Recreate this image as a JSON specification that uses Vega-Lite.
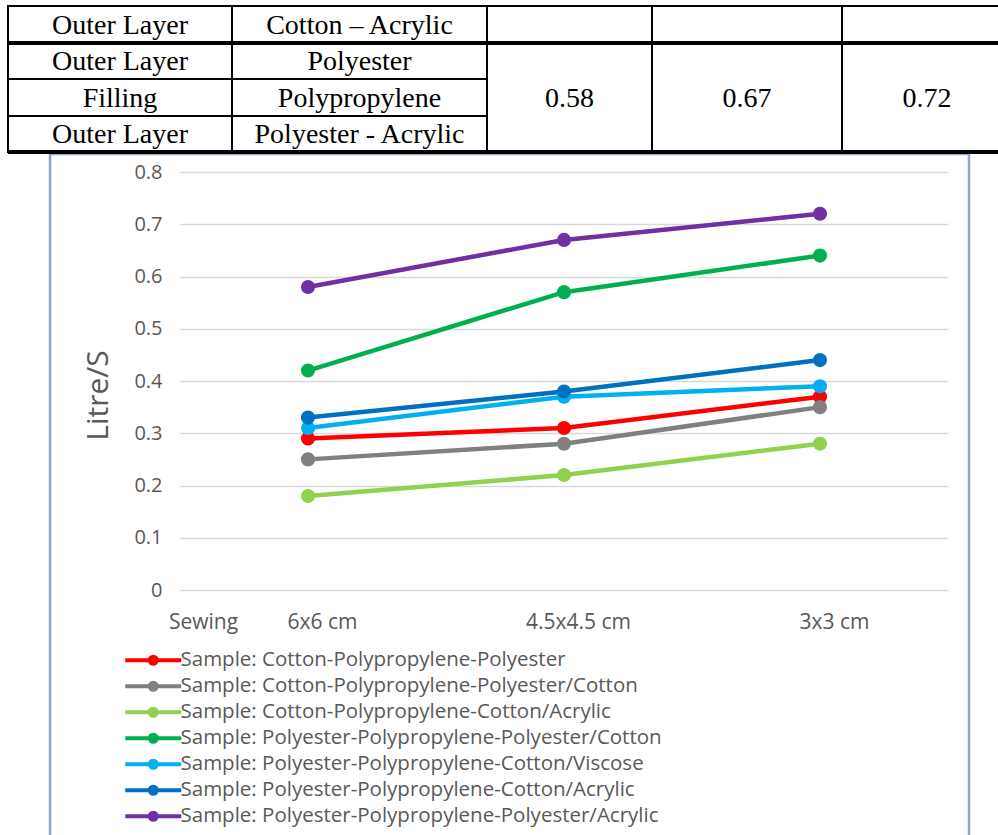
{
  "$schema": "https://vega.github.io/schema/vega-lite/v6.json",
  "autosize": {"type": "none"},
  "width": 768,
  "height": 418,
  "padding": {"left": 180, "top": 172, "right": 50, "bottom": 245},
  "background": "white",
  "config": {"view": {"stroke": null}, "font": "Open Sans"},
  "datasets": {
    "cells": [
      {"r0": 0, "r1": 1, "c0": 0, "c1": 1, "rc": 0.5, "cc": 0.5, "label": "Outer Layer"},
      {"r0": 0, "r1": 1, "c0": 1, "c1": 2, "rc": 0.5, "cc": 1.5, "label": "Cotton – Acrylic"},
      {"r0": 0, "r1": 1, "c0": 2, "c1": 3, "rc": 0.5, "cc": 2.5, "label": ""},
      {"r0": 0, "r1": 1, "c0": 3, "c1": 4, "rc": 0.5, "cc": 3.5, "label": ""},
      {"r0": 0, "r1": 1, "c0": 4, "c1": 5, "rc": 0.5, "cc": 4.5, "label": ""},
      {"r0": 1, "r1": 2, "c0": 0, "c1": 1, "rc": 1.5, "cc": 0.5, "label": "Outer Layer"},
      {"r0": 1, "r1": 2, "c0": 1, "c1": 2, "rc": 1.5, "cc": 1.5, "label": "Polyester"},
      {"r0": 2, "r1": 3, "c0": 0, "c1": 1, "rc": 2.5, "cc": 0.5, "label": "Filling"},
      {"r0": 2, "r1": 3, "c0": 1, "c1": 2, "rc": 2.5, "cc": 1.5, "label": "Polypropylene"},
      {"r0": 3, "r1": 4, "c0": 0, "c1": 1, "rc": 3.5, "cc": 0.5, "label": "Outer Layer"},
      {"r0": 3, "r1": 4, "c0": 1, "c1": 2, "rc": 3.5, "cc": 1.5, "label": "Polyester - Acrylic"},
      {"r0": 1, "r1": 4, "c0": 2, "c1": 3, "rc": 2.5, "cc": 2.5, "label": "0.58"},
      {"r0": 1, "r1": 4, "c0": 3, "c1": 4, "rc": 2.5, "cc": 3.5, "label": "0.67"},
      {"r0": 1, "r1": 4, "c0": 4, "c1": 5, "rc": 2.5, "cc": 4.5, "label": "0.72"}
    ],
    "thick": [{"r": 1}, {"r": 4}],
    "series": [
      {"sample": "Sample: Cotton-Polypropylene-Polyester", "size": "6x6 cm", "v": 0.29},
      {"sample": "Sample: Cotton-Polypropylene-Polyester", "size": "4.5x4.5 cm", "v": 0.31},
      {"sample": "Sample: Cotton-Polypropylene-Polyester", "size": "3x3 cm", "v": 0.37},
      {"sample": "Sample: Cotton-Polypropylene-Polyester/Cotton", "size": "6x6 cm", "v": 0.25},
      {"sample": "Sample: Cotton-Polypropylene-Polyester/Cotton", "size": "4.5x4.5 cm", "v": 0.28},
      {"sample": "Sample: Cotton-Polypropylene-Polyester/Cotton", "size": "3x3 cm", "v": 0.35},
      {"sample": "Sample: Cotton-Polypropylene-Cotton/Acrylic", "size": "6x6 cm", "v": 0.18},
      {"sample": "Sample: Cotton-Polypropylene-Cotton/Acrylic", "size": "4.5x4.5 cm", "v": 0.22},
      {"sample": "Sample: Cotton-Polypropylene-Cotton/Acrylic", "size": "3x3 cm", "v": 0.28},
      {"sample": "Sample: Polyester-Polypropylene-Polyester/Cotton", "size": "6x6 cm", "v": 0.42},
      {"sample": "Sample: Polyester-Polypropylene-Polyester/Cotton", "size": "4.5x4.5 cm", "v": 0.57},
      {"sample": "Sample: Polyester-Polypropylene-Polyester/Cotton", "size": "3x3 cm", "v": 0.64},
      {"sample": "Sample: Polyester-Polypropylene-Cotton/Viscose", "size": "6x6 cm", "v": 0.31},
      {"sample": "Sample: Polyester-Polypropylene-Cotton/Viscose", "size": "4.5x4.5 cm", "v": 0.37},
      {"sample": "Sample: Polyester-Polypropylene-Cotton/Viscose", "size": "3x3 cm", "v": 0.39},
      {"sample": "Sample: Polyester-Polypropylene-Cotton/Acrylic", "size": "6x6 cm", "v": 0.33},
      {"sample": "Sample: Polyester-Polypropylene-Cotton/Acrylic", "size": "4.5x4.5 cm", "v": 0.38},
      {"sample": "Sample: Polyester-Polypropylene-Cotton/Acrylic", "size": "3x3 cm", "v": 0.44},
      {"sample": "Sample: Polyester-Polypropylene-Polyester/Acrylic", "size": "6x6 cm", "v": 0.58},
      {"sample": "Sample: Polyester-Polypropylene-Polyester/Acrylic", "size": "4.5x4.5 cm", "v": 0.67},
      {"sample": "Sample: Polyester-Polypropylene-Polyester/Acrylic", "size": "3x3 cm", "v": 0.72}
    ]
  },
  "layer": [
    {
      "data": {"values": [{"box": "chart area"}]},
      "mark": {"type": "rect", "fill": "transparent", "stroke": "#8FA4C6", "strokeWidth": 2.5},
      "encoding": {
        "x": {"datum": 0, "type": "quantitative", "scale": {"domain": [0, 1], "range": [-130, 789], "nice": false, "zero": false}, "axis": null},
        "x2": {"datum": 1},
        "y": {"datum": 0, "type": "quantitative", "scale": {"domain": [0, 1], "range": [-18, 680], "nice": false, "zero": false}, "axis": null},
        "y2": {"datum": 1}
      }
    },
    {
      "layer": [
        {
          "data": {"name": "cells"},
          "mark": {"type": "rect", "fill": "white", "stroke": "black", "strokeWidth": 2},
          "encoding": {
            "x": {"field": "c0", "type": "quantitative", "scale": {"domain": [0, 1, 2, 3, 4, 5], "range": [-172, 52, 307, 472, 662, 832], "nice": false, "zero": false}, "axis": null},
            "x2": {"field": "c1"},
            "y": {"field": "r0", "type": "quantitative", "scale": {"domain": [0, 1, 2, 3, 4], "range": [-166, -129, -93, -56, -20], "nice": false, "zero": false}, "axis": null},
            "y2": {"field": "r1"}
          }
        },
        {
          "data": {"name": "thick"},
          "mark": {"type": "rule", "stroke": "black", "strokeWidth": 4},
          "encoding": {
            "x": {"datum": 0, "type": "quantitative", "scale": {"domain": [0, 1, 2, 3, 4, 5], "range": [-172, 52, 307, 472, 662, 832], "nice": false, "zero": false}, "axis": null},
            "x2": {"datum": 5},
            "y": {"field": "r", "type": "quantitative", "scale": {"domain": [0, 1, 2, 3, 4], "range": [-166, -129, -93, -56, -20], "nice": false, "zero": false}, "axis": null}
          }
        },
        {
          "data": {"name": "cells"},
          "mark": {"type": "text", "font": "Liberation Serif", "fontSize": 28, "color": "black", "align": "center", "baseline": "middle", "dy": 1},
          "encoding": {
            "x": {"field": "cc", "type": "quantitative", "scale": {"domain": [0, 1, 2, 3, 4, 5], "range": [-172, 52, 307, 472, 662, 832], "nice": false, "zero": false}, "axis": null},
            "y": {"field": "rc", "type": "quantitative", "scale": {"domain": [0, 1, 2, 3, 4], "range": [-166, -129, -93, -56, -20], "nice": false, "zero": false}, "axis": null},
            "text": {"field": "label"}
          }
        }
      ]
    },
    {
      "data": {"name": "series"},
      "encoding": {
        "x": {
          "field": "size", "type": "nominal", "sort": null,
          "scale": {"type": "point", "domain": ["6x6 cm", "4.5x4.5 cm", "3x3 cm"], "padding": 0.5},
          "axis": {
            "title": "Sewing", "labelAngle": 0, "labelFontSize": 21, "labelColor": "#595959",
            "labelPadding": 21, "labelOffset": 14, "labelBaseline": "top", "ticks": false, "domain": false, "grid": false,
            "titleX": 23, "titleY": 21, "titleAlign": "center", "titleBaseline": "top",
            "titleFontSize": 21, "titleFontWeight": "normal", "titleColor": "#595959"
          }
        },
        "y": {
          "field": "v", "type": "quantitative",
          "scale": {"domain": [0, 0.8], "nice": false, "zero": true},
          "axis": {
            "title": "Litre/S", "values": [0, 0.1, 0.2, 0.3, 0.4, 0.5, 0.6, 0.7, 0.8], "format": "~g",
            "grid": true, "gridColor": "#D9D9D9", "gridWidth": 1.3, "domain": false, "ticks": false,
            "labelPadding": 18, "labelFontSize": 20, "labelColor": "#595959",
            "titleFontSize": 30, "titleFontWeight": "normal", "titleColor": "#595959",
            "titleX": -82, "titleY": 223, "titleAngle": -90, "titleAlign": "center", "titleBaseline": "middle"
          }
        },
        "color": {
          "field": "sample", "type": "nominal",
          "scale": {
            "domain": [
              "Sample: Cotton-Polypropylene-Polyester",
              "Sample: Cotton-Polypropylene-Polyester/Cotton",
              "Sample: Cotton-Polypropylene-Cotton/Acrylic",
              "Sample: Polyester-Polypropylene-Polyester/Cotton",
              "Sample: Polyester-Polypropylene-Cotton/Viscose",
              "Sample: Polyester-Polypropylene-Cotton/Acrylic",
              "Sample: Polyester-Polypropylene-Polyester/Acrylic"
            ],
            "range": ["#FF0000", "#808080", "#92D050", "#00B050", "#00B0F0", "#0070C0", "#7030A0"]
          },
          "legend": {
            "orient": "none", "legendX": -58, "legendY": 478, "title": null,
            "symbolType": "M-1,0 L7,0 M2.5,0 A0.5,0.5 0 1,1 3.5,0 A0.5,0.5 0 1,1 2.5,0",
            "symbolSize": 196, "symbolStrokeWidth": 4,
            "labelFontSize": 20.5, "labelColor": "#595959", "labelOffset": 38, "rowPadding": 2, "labelLimit": 0
          }
        }
      },
      "layer": [
        {"mark": {"type": "line", "strokeWidth": 4.5}},
        {"mark": {"type": "point", "filled": true, "size": 200, "opacity": 1}}
      ]
    }
  ],
  "resolve": {"scale": {"x": "independent", "y": "independent"}}
}
